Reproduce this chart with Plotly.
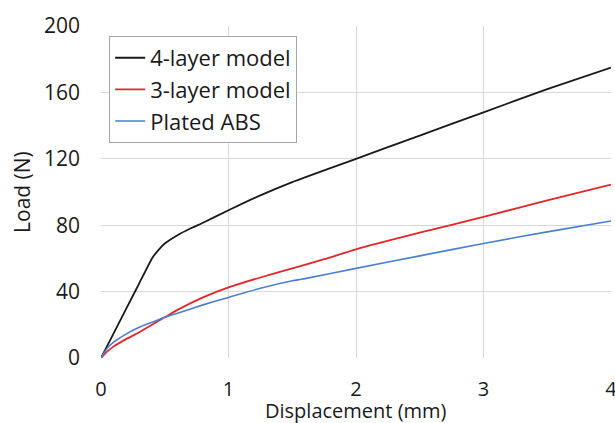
import plotly.graph_objects as go

# 4-layer model
disp_4 = [0, 0.1, 0.2, 0.3, 0.4, 0.45, 0.5, 0.6, 0.7, 0.8, 1.0, 1.25, 1.5, 2.0, 2.5, 3.0, 3.5, 4.0]
load_4 = [0, 15, 30, 45, 60, 65, 69, 74, 78, 81.5, 89, 98, 106, 120, 134, 148, 162, 175]

# 3-layer model
disp_3 = [0, 0.05, 0.1, 0.2, 0.3, 0.4, 0.5, 0.6, 0.8, 1.0, 1.25, 1.5, 1.75, 2.0, 2.5, 3.0, 3.5, 4.0]
load_3 = [0, 4, 7, 11.5, 15.5, 20, 24.5, 29, 36.5, 42.5, 48.5, 54, 59.5, 65.5, 75.5, 85, 95, 104.5]

# Plated ABS
disp_p = [0, 0.05, 0.1, 0.2, 0.3, 0.4, 0.5, 0.6, 0.8, 1.0, 1.25, 1.5, 1.56, 1.6, 2.0, 2.5, 3.0, 3.5, 4.0]
load_p = [0, 6, 9.5, 14.5, 18.5, 21.5, 24.5, 27, 32, 36.5, 42, 46.5, 47.3, 47.8, 54, 61.5, 69, 76, 82.5]

x_ticks = [0, 1, 2, 3, 4]
y_ticks = [0, 40, 80, 120, 160, 200]
x_title = "Displacement (mm)"
y_title = "Load (N)"

FONT = "Open Sans"

fig = go.Figure()
fig.add_trace(go.Scatter(x=disp_4, y=load_4, mode="lines", name="4-layer model",
                         line=dict(color="#1a1a1a", width=1.8, shape="spline", smoothing=0.5)))
fig.add_trace(go.Scatter(x=disp_3, y=load_3, mode="lines", name="3-layer model",
                         line=dict(color="#e3262b", width=1.8, shape="spline", smoothing=0.6)))
fig.add_trace(go.Scatter(x=disp_p, y=load_p, mode="lines", name="Plated ABS",
                         line=dict(color="#4a7fd4", width=1.6, shape="spline", smoothing=0.6)))

fig.update_layout(
    width=615, height=423,
    margin=dict(l=101, r=4, t=26, b=65),
    paper_bgcolor="white", plot_bgcolor="white",
    font=dict(family=FONT, size=21, color="#1a1a1a"),
    showlegend=True,
    legend=dict(
        x=0.016, y=0.97, xanchor="left", yanchor="top",
        bordercolor="#a6a6a6", borderwidth=1, bgcolor="white",
        font=dict(family=FONT, size=22, color="#1a1a1a"),
        itemwidth=30, tracegroupgap=0,
    ),
    xaxis=dict(
        range=[0, 4], tickvals=x_ticks, ticktext=[str(v) for v in x_ticks],
        showgrid=True, gridcolor="#d9d9d9", gridwidth=1,
        zeroline=False, showline=False, ticks="",
        ticklabelstandoff=17, ticklabeloverflow="allow", automargin=False,
        tickfont=dict(family=FONT, size=20),
    ),
    yaxis=dict(
        range=[0, 200], tickvals=y_ticks, ticktext=[str(v) for v in y_ticks],
        showgrid=True, gridcolor="#d9d9d9", gridwidth=1,
        zeroline=False, showline=False, ticks="",
        ticklabelstandoff=20, ticklabeloverflow="allow", automargin=False,
        tickfont=dict(family=FONT, size=21),
    ),
    annotations=[
        dict(text=x_title, xref="paper", yref="paper", x=0.5, y=-0.157,
             xanchor="center", yanchor="middle", showarrow=False,
             font=dict(family=FONT, size=20, color="#1a1a1a")),
        dict(text=y_title, xref="paper", yref="paper", x=-0.155, y=0.5,
             xanchor="center", yanchor="middle", textangle=-90, showarrow=False,
             font=dict(family=FONT, size=21, color="#1a1a1a")),
    ],
)

fig.write_html("out.html")
